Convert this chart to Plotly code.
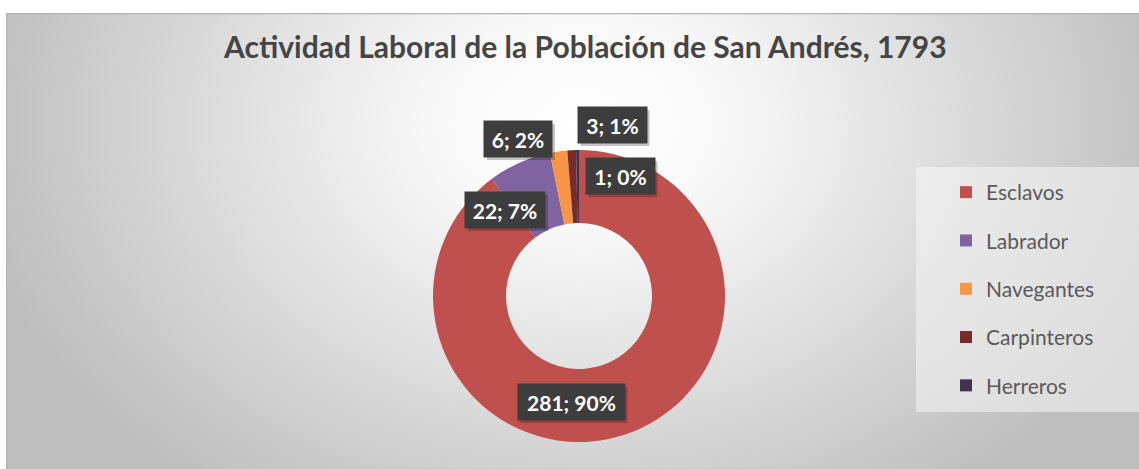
import base64
import plotly.graph_objects as go

# ---------------- data ----------------
categories = ["Esclavos", "Labrador", "Navegantes", "Carpinteros", "Herreros"]
values = [281, 22, 6, 3, 1]
colors = ["#C0504D", "#8064A2", "#F79646", "#772C2A", "#3F3151"]
title_text = "Actividad Laboral de la Población de San Andrés, 1793"

# ---------------- layout constants (pixels) ----------------
W, H = 1139, 469
CX, CY, R = 579, 296, 146          # donut centre / outer radius
HOLE = 0.5
# label box placement relative to donut centre (px) and box widths
label_offsets = [(-8, 106), (-74, -86), (-61, -157), (33, -171), (41, -120)]
label_widths = [107, 80, 68, 69, 69]
LABEL_H = 36
SHADOW = 3


def px(x):
    return x / W


def py(y):
    return 1 - y / H


total = sum(values)
labels_txt = [f"{v}; {round(100 * v / total)}%" for v in values]

# background: radial gradient chart area via SVG data URI
AX0, AY0 = 6, 13
AW, AH = W - AX0, H - AY0
svg = f"""<svg xmlns='http://www.w3.org/2000/svg' width='{AW}' height='{AH}'>
<defs><radialGradient id='g' gradientUnits='userSpaceOnUse' cx='575' cy='110' r='620'
 gradientTransform='translate(575 110) scale(1 0.75) translate(-575 -110)'>
<stop offset='0' stop-color='#ffffff'/><stop offset='0.25' stop-color='#f7f7f7'/>
<stop offset='1' stop-color='#bdbdbd'/></radialGradient></defs>
<rect x='0' y='0' width='{AW}' height='{AH}' fill='url(#g)'/>
<rect x='0.5' y='0.5' width='{AW}' height='{AH}' fill='none' stroke='#b4b4b4' stroke-width='1.5'/>
</svg>"""
svg_uri = "data:image/svg+xml;base64," + base64.b64encode(svg.encode()).decode()

fig = go.Figure()

fig.add_trace(go.Pie(
    labels=categories,
    values=values,
    hole=HOLE,
    sort=False,
    direction="clockwise",
    rotation=0,
    marker=dict(colors=colors, line=dict(width=0)),
    textinfo="none",
    showlegend=False,
    domain=dict(x=[px(CX - R), px(CX + R)], y=[py(CY + R), py(CY - R)]),
))

# legend entries (one group each, for Excel-like spacing)
for name, col in zip(categories, colors):
    fig.add_trace(go.Scatter(
        x=[None], y=[None], mode="markers", name=name, legendgroup=name,
        marker=dict(symbol="square", size=12, color=col),
    ))

annotations = []
shapes = [dict(
    type="rect", xref="paper", yref="paper",
    x0=px(916), x1=1, y0=py(412), y1=py(167),
    fillcolor="rgba(245,245,245,0.55)", line=dict(width=0), layer="below",
)]
for (dx, dy), w, t in zip(label_offsets, label_widths, labels_txt):
    cx, cy = CX + dx, CY + dy
    # drop shadow behind the label box
    shapes.append(dict(
        type="rect", xref="paper", yref="paper", layer="above",
        x0=px(cx - w / 2 + SHADOW), x1=px(cx + w / 2 + SHADOW),
        y0=py(cy + LABEL_H / 2 + SHADOW), y1=py(cy - LABEL_H / 2 + SHADOW),
        fillcolor="rgba(0,0,0,0.22)", line=dict(width=0),
    ))
    annotations.append(dict(
        x=px(cx), y=py(cy), xref="paper", yref="paper",
        xanchor="center", yanchor="middle",
        text=f"<b>{t}</b>", showarrow=False,
        font=dict(family="Lato", size=21, color="#ffffff"),
        bgcolor="#3d3d3d", width=w, height=LABEL_H, borderpad=0,
    ))

annotations.append(dict(
    x=px(585), y=py(46), xref="paper", yref="paper", text=f"<b>{title_text}</b>",
    showarrow=False, xanchor="center", yanchor="middle",
    font=dict(family="Lato", size=30, color="#454545"),
))

fig.update_layout(
    width=W, height=H,
    margin=dict(l=0, r=0, t=0, b=0),
    paper_bgcolor="#ffffff",
    plot_bgcolor="rgba(0,0,0,0)",
    xaxis=dict(visible=False),
    yaxis=dict(visible=False),
    font=dict(family="Lato"),
    showlegend=True,
    legend=dict(
        x=px(946), y=py(172), xanchor="left", yanchor="top",
        bgcolor="rgba(0,0,0,0)", tracegroupgap=18,
        font=dict(family="Lato", size=21, color="#595959"),
        itemclick=False, itemdoubleclick=False,
    ),
    images=[dict(
        source=svg_uri, xref="paper", yref="paper",
        x=px(AX0), y=py(AY0), sizex=AW / W, sizey=AH / H,
        xanchor="left", yanchor="top", sizing="stretch", layer="below",
    )],
    shapes=shapes,
    annotations=annotations,
)

fig.write_html("out.html")
